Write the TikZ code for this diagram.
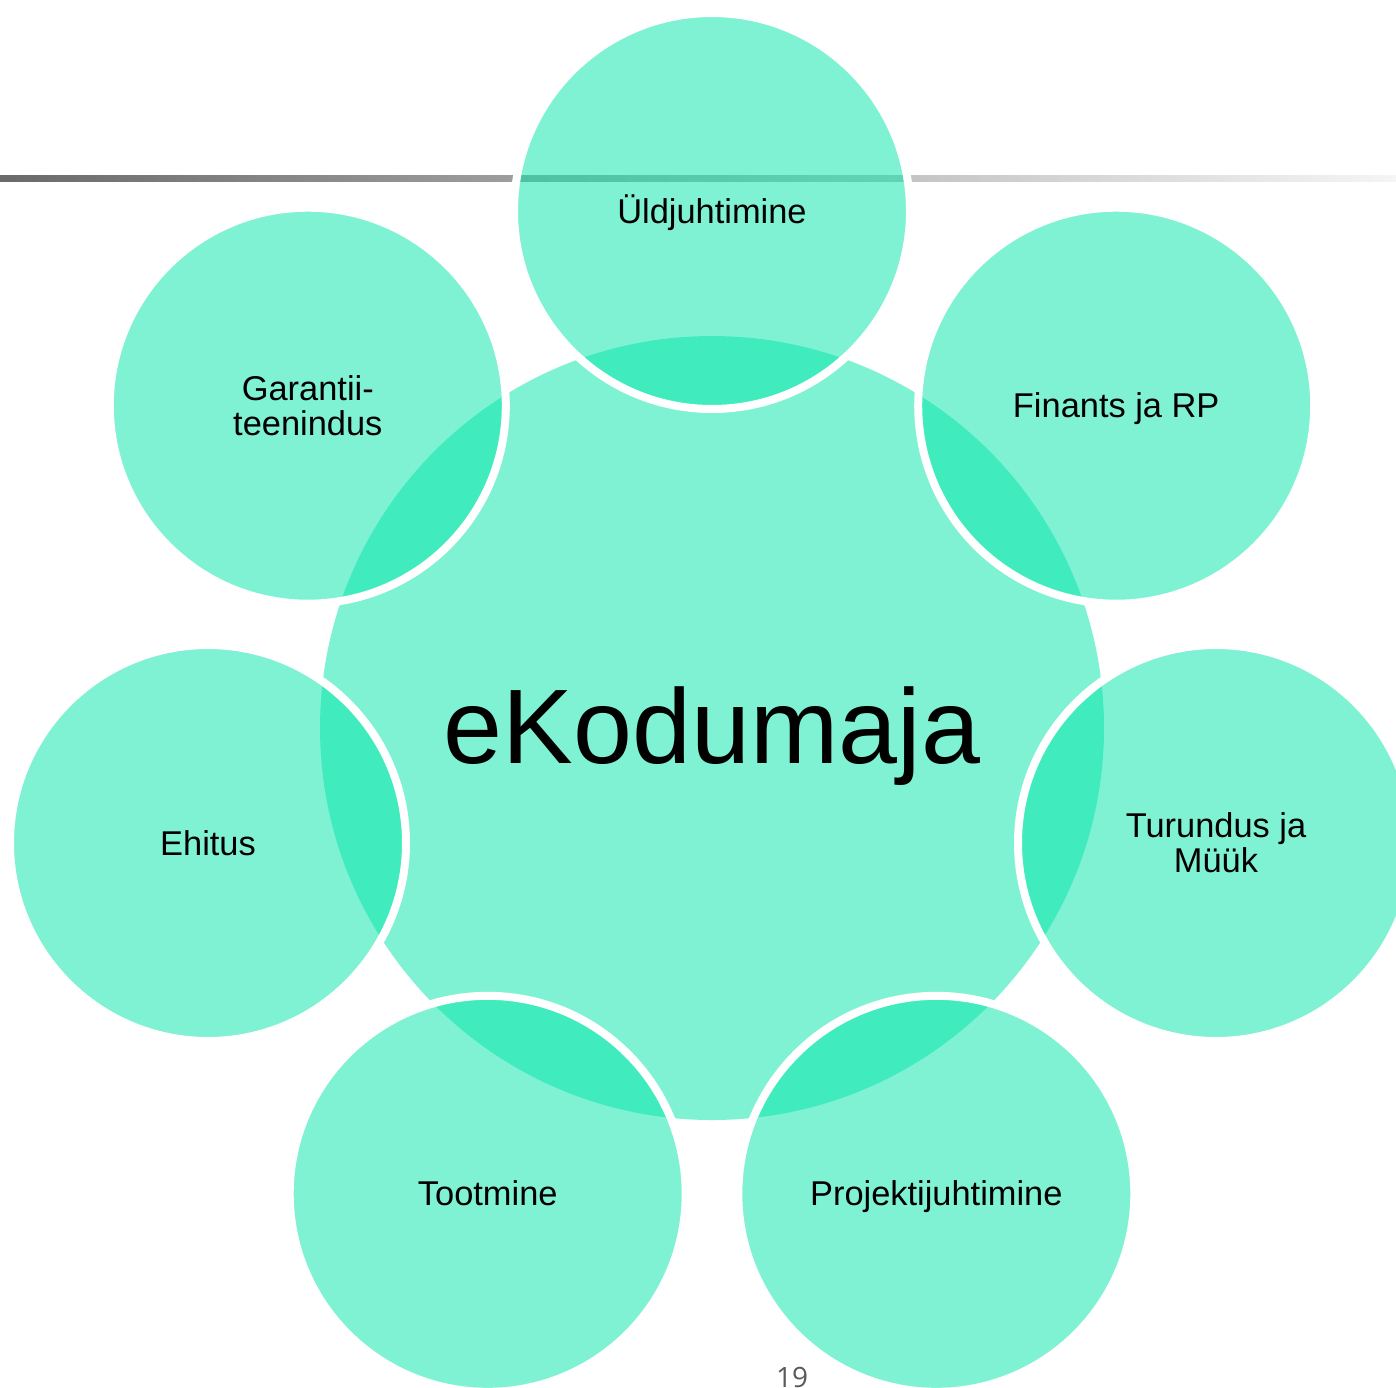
\documentclass[tikz,border=0pt]{standalone}
\usepackage{fontspec}
\setmainfont{Liberation Sans}
\newfontfamily\pagefont{Open Sans}
\definecolor{bubblecol}{RGB}{1,229,169}
\definecolor{lineleft}{RGB}{106,106,106}
\definecolor{lineright}{RGB}{245,245,245}
\definecolor{pagegray}{RGB}{89,89,89}
\begin{document}
\begin{tikzpicture}[x=1pt,y=-1pt,
  bubble/.style={fill=bubblecol, fill opacity=0.5},
  satellite/.style={bubble, draw=white, draw opacity=1, line width=8pt},
  lbl/.style={font=\fontsize{34.4}{35}\selectfont, inner sep=0pt, anchor=base, text=black},
  bigl/.style={font=\fontsize{106}{110}\selectfont, inner sep=0pt, anchor=base, text=black}]
\useasboundingbox (0,0) rectangle (1396,1387);
\clip (0,0) rectangle (1396,1387);
% horizontal rule
\shade[left color=lineleft, right color=lineright] (0,175.5) rectangle (1396,181);
% centre
\coordinate (c) at (712,728);
\fill[bubble] (c) circle (392);
% satellites
\coordinate (s0) at (712,211);
\coordinate (s1) at (1116.2,405.7);
\coordinate (s2) at (1216.0,843.0);
\coordinate (s3) at (936.3,1193.8);
\coordinate (s4) at (487.7,1193.8);
\coordinate (s5) at (208.0,843.0);
\coordinate (s6) at (307.8,405.7);
\foreach \s in {s0,s1,s2,s3,s4,s5,s6}{
  \filldraw[satellite] (\s) circle (198);
}
% labels
\node[bigl] (tc) at (712,763) {eKodumaja};
\node[lbl] (t0) at (712,223) {Üldjuhtimine};
\node[lbl] (t1) at (1116.2,417.7) {Finants ja RP};
\node[lbl] (t2a) at (1216.0,837.5) {Turundus ja};
\node[lbl] (t2b) at (1216.0,872.5) {Müük};
\node[lbl] (t3) at (936.3,1205.8) {Projektijuhtimine};
\node[lbl] (t4) at (487.7,1205.8) {Tootmine};
\node[lbl] (t5) at (208.0,855.0) {Ehitus};
\node[lbl] (t6a) at (307.8,400.2) {Garantii-};
\node[lbl] (t6b) at (307.8,435.2) {teenindus};
% page number
\node[font=\pagefont\fontsize{28}{30}\selectfont, text=pagegray, inner sep=0pt, anchor=base] (pn) at (792,1387) {19};
\end{tikzpicture}
\end{document}
